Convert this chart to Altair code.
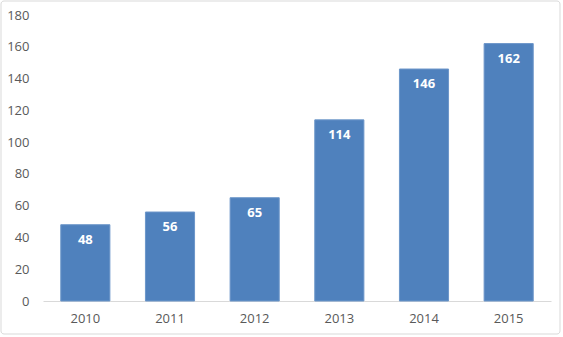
import altair as alt
import pandas as pd

years = ["2010", "2011", "2012", "2013", "2014", "2015"]
values = [48, 56, 65, 114, 146, 162]

df = pd.DataFrame({"year": years, "value": values})

W, H = 508, 286
PADL, PADT = 43, 15
FONT = "Open Sans"

border = alt.Chart(pd.DataFrame({"a": [0]})).mark_rect(
    fillOpacity=0, stroke="#d9d9d9", strokeWidth=1, cornerRadius=3
).encode(
    x=alt.value(-42), x2=alt.value(517), y=alt.value(-14), y2=alt.value(319)
)

base = alt.Chart(df).encode(
    x=alt.X("year:N", sort=years,
            scale=alt.Scale(paddingInner=0.42, paddingOuter=0.21),
            axis=alt.Axis(title=None, labelAngle=0, ticks=False, domainColor="#d9d9d9",
                          labelPadding=11, labelFont=FONT, labelFontSize=13,
                          labelColor="#595959")),
    y=alt.Y("value:Q", scale=alt.Scale(domain=[0, 180], nice=False),
            axis=alt.Axis(title=None, values=list(range(0, 181, 20)), grid=False,
                          domain=False, ticks=False, labelPadding=14,
                          labelFont=FONT, labelFontSize=13,
                          labelColor="#595959")),
)

bars = base.mark_bar(color="#4f81bd", stroke="#6c96c9", strokeWidth=1)
labels = base.mark_text(color="white", fontWeight="bold", font=FONT,
                        fontSize=13, baseline="middle", dy=15).encode(text="value:Q")

chart = alt.layer(border, bars, labels).properties(
    width=W, height=H,
    padding={"left": PADL, "top": PADT, "right": 12, "bottom": 36},
    autosize=alt.AutoSizeParams(type="none"),
    background="white",
).configure_view(stroke=None)

chart.save("out.html", embed_options={"renderer": "svg", "actions": False})
